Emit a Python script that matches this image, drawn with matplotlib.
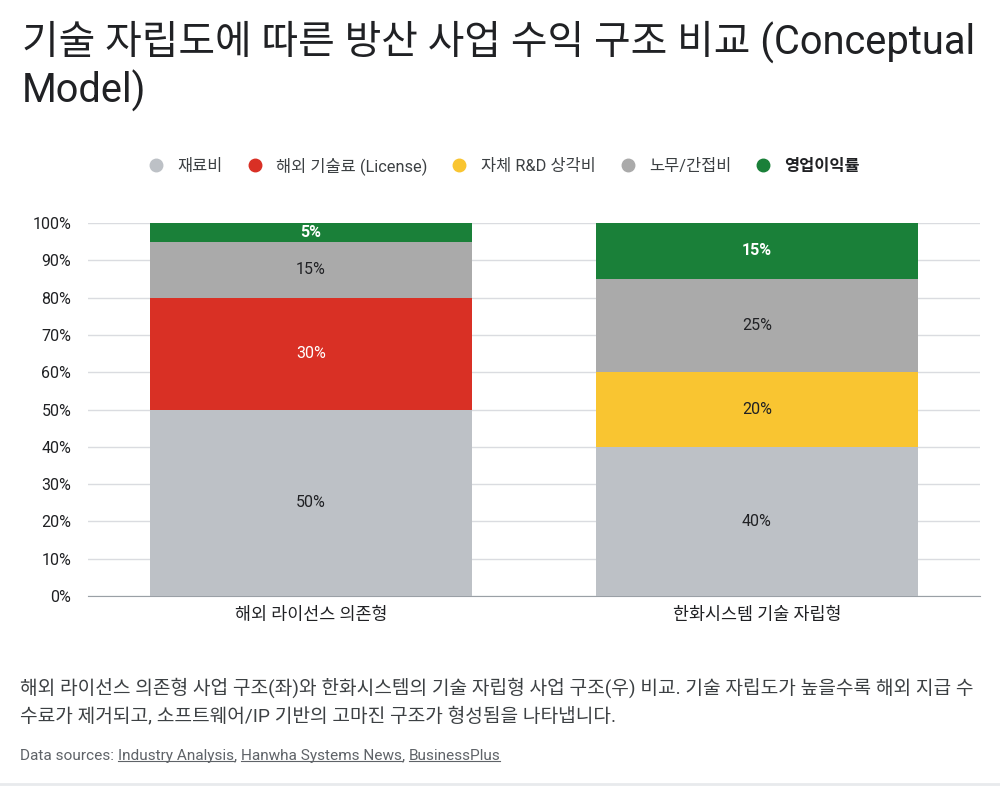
import matplotlib
matplotlib.use("Agg")
import matplotlib.pyplot as plt
from matplotlib.lines import Line2D
import numpy as np

plt.rcParams['font.family'] = ['Roboto', 'Noto Sans CJK KR', 'DejaVu Sans']

categories = ["해외 라이선스 의존형", "한화시스템 기술 자립형"]
series_names = ["재료비", "해외 기술료 (License)", "자체 R&D 상각비", "노무/간접비", "영업이익률"]
material = [50, 40]
license_fee = [30, 0]
rnd = [0, 20]
labor = [15, 25]
profit = [5, 15]
colors = ["#BDC1C6", "#D93025", "#F9C531", "#AAAAAA", "#1A8039"]
label_colors = ["#202124", "#FFFFFF", "#202124", "#202124", "#FFFFFF"]
label_weights = ["normal", "normal", "normal", "normal", "bold"]

fig = plt.figure(figsize=(10, 7.86), dpi=100)
ax = fig.add_axes([0.088, 1 - 596 / 786, 0.892, (596 - 223) / 786])

x = np.arange(len(categories))
bottom = np.zeros(len(categories))
for vals, name, c, lc, lw in zip([material, license_fee, rnd, labor, profit],
                                 series_names, colors, label_colors, label_weights):
    vals = np.array(vals, dtype=float)
    ax.bar(x, vals, 0.72, bottom=bottom, color=c, label=name, zorder=3)
    for xi, v, b in zip(x, vals, bottom):
        if v > 0:
            ax.text(xi, b + v / 2, f"{int(v)}%", ha="center", va="center",
                    color=lc, fontsize=11.5, fontweight=lw, zorder=4)
    bottom += vals

ax.set_xlim(-0.5, 1.5)
ax.set_ylim(0, 100)
ax.set_yticks(range(0, 101, 10))
ax.set_yticklabels([f"{v}%" for v in range(0, 101, 10)], fontsize=11.5, color="#202124")
ax.set_xticks(x)
ax.set_xticklabels(categories, fontsize=12.5, color="#202124")
ax.tick_params(axis="y", length=0, pad=12)
ax.tick_params(axis="x", length=0, pad=8)
ax.grid(axis="y", color="#DADCE0", linewidth=1, zorder=0)
for s in ["top", "right", "left"]:
    ax.spines[s].set_visible(False)
ax.spines["bottom"].set_color("#9AA0A6")

fig.text(0.022, 1 - 66 / 786, "기술 자립도에 따른 방산 사업 수익 구조 비교 (Conceptual\nModel)",
         fontsize=28.7, color="#202124", va="center", ha="left", linespacing=1.2)

handles = [Line2D([], [], marker="o", linestyle="", markersize=9,
                  markerfacecolor=c, markeredgecolor=c) for c in colors]
leg = fig.legend(handles, series_names, loc="center", bbox_to_anchor=(0.5, 1 - 166 / 786),
                 ncol=5, frameon=False, fontsize=11.8, handletextpad=0.3, columnspacing=0.95,
                 labelcolor="#3C4043")
leg.get_texts()[-1].set_fontweight("bold")
leg.get_texts()[-1].set_color("#202124")

fig.text(0.02, 1 - 688 / 786,
         "해외 라이선스 의존형 사업 구조(좌)와 한화시스템의 기술 자립형 사업 구조(우) 비교. 기술 자립도가 높을수록 해외 지급 수",
         fontsize=13.8, color="#3C4043", va="center")
fig.text(0.02, 1 - 716 / 786,
         "수료가 제거되고, 소프트웨어/IP 기반의 고마진 구조가 형성됨을 나타냅니다.",
         fontsize=13.8, color="#3C4043", va="center")

# sources line with underlined names
fig.canvas.draw()
renderer = fig.canvas.get_renderer()
parts = [("Data sources: ", False), ("Industry Analysis", True), (", ", False),
         ("Hanwha Systems News", True), (", ", False), ("BusinessPlus", True)]
xpos = 20
ypix = 786 - 756
for txt, ul in parts:
    t = fig.text(xpos / 1000, ypix / 786, txt, fontsize=11.1, color="#5F6368", va="center")
    bb = t.get_window_extent(renderer)
    if ul:
        fig.add_artist(Line2D([bb.x0 / 1000, bb.x1 / 1000],
                              [(bb.y0 + 2) / 786, (bb.y0 + 2) / 786],
                              color="#5F6368", linewidth=0.8))
    xpos = bb.x1

fig.add_artist(Line2D([0, 1], [2 / 786, 2 / 786], color="#E8EAED", linewidth=2))

fig.savefig("out.png", dpi=100, facecolor="white")
